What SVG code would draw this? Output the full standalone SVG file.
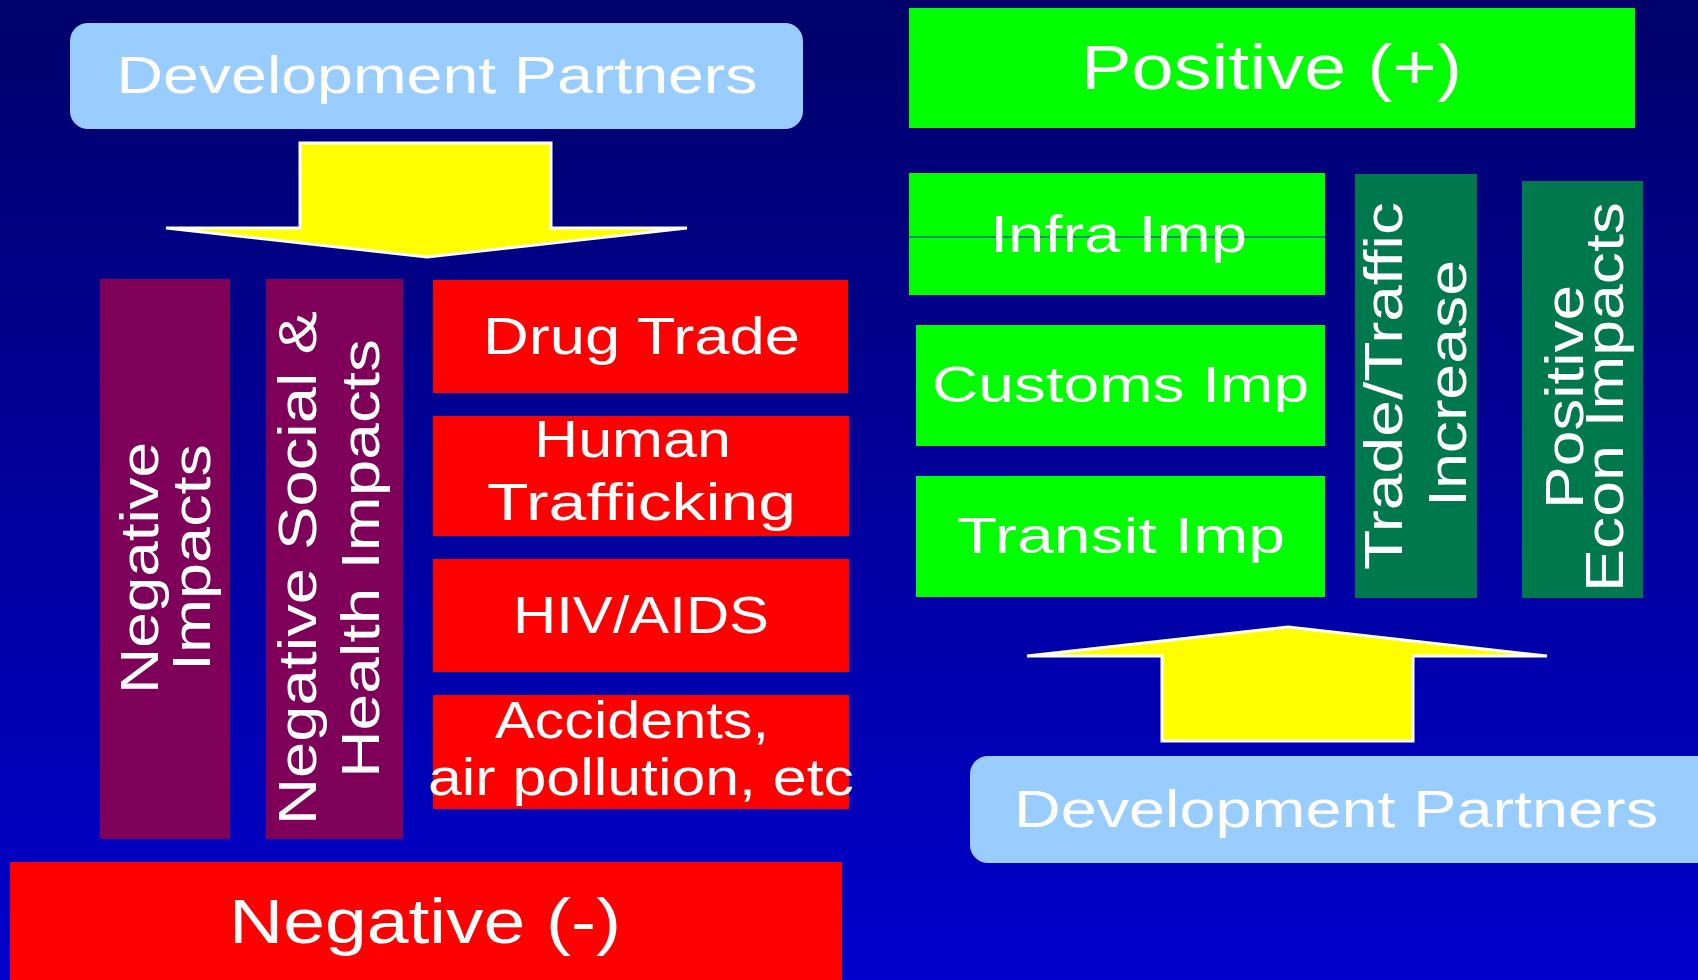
<svg xmlns="http://www.w3.org/2000/svg" width="1698" height="980" viewBox="0 0 1698 980">
<defs>
<linearGradient id="bg" x1="0" y1="0" x2="0" y2="1">
<stop offset="0" stop-color="#00006A"/>
<stop offset="1" stop-color="#0000CC"/>
</linearGradient>
<style>
text{font-family:"Liberation Sans",Arial,sans-serif;fill:#FFFFFF;text-anchor:middle}
.dp{fill:#99CCFF}
.red{fill:#FF0000}
.grn{fill:#00FF00}
.dgr{fill:#00784E}
.mag{fill:#7E0058}
.arrow{fill:#FFFF00;stroke:#FFFFFF;stroke-width:3;stroke-linejoin:miter}
.t50{font-size:50px}
.t52{font-size:52px}
.t54{font-size:54px}
.t63{font-size:63px}
</style>
</defs>
<rect x="0" y="0" width="1698" height="980" fill="url(#bg)"/>

<g id="connectors">
<polygon class="arrow" points="300,143 551,143 551,228 687,228 427,257 166,228 300,228"/>
<polygon class="arrow" points="1288,627 1547,656 1413,656 1413,741 1162,741 1162,656 1027,656"/>
</g>

<g id="dev-partners-left">
<rect class="dp" x="70" y="23" width="733" height="106" rx="18"/>
<text class="t52" x="437" y="93" textLength="641" lengthAdjust="spacingAndGlyphs">Development Partners</text>
</g>

<g id="negative-impacts">
<rect class="mag" x="100" y="279" width="130" height="560"/>
<text class="t54" transform="translate(158,568) rotate(-90)" textLength="252" lengthAdjust="spacingAndGlyphs">Negative</text>
<text class="t54" transform="translate(210,557.5) rotate(-90)" textLength="227" lengthAdjust="spacingAndGlyphs">Impacts</text>
</g>

<g id="negative-social-health">
<rect class="mag" x="266" y="279" width="137" height="560"/>
<text class="t54" transform="translate(316,568) rotate(-90)" textLength="514" lengthAdjust="spacingAndGlyphs">Negative Social &amp;</text>
<text class="t54" transform="translate(379,558.5) rotate(-90)" textLength="439" lengthAdjust="spacingAndGlyphs">Health Impacts</text>
</g>

<g id="drug-trade">
<rect class="red" x="433" y="280" width="415" height="113"/>
<text class="t52" x="641.5" y="354" textLength="317" lengthAdjust="spacingAndGlyphs">Drug Trade</text>
</g>

<g id="human-trafficking">
<rect class="red" x="433" y="416" width="416" height="120"/>
<text class="t52" x="632.5" y="457" textLength="197" lengthAdjust="spacingAndGlyphs">Human</text>
<text class="t52" x="641.5" y="520" textLength="309" lengthAdjust="spacingAndGlyphs">Trafficking</text>
</g>

<g id="hiv-aids">
<rect class="red" x="433" y="559" width="416" height="113"/>
<text class="t52" x="641" y="633" textLength="256" lengthAdjust="spacingAndGlyphs">HIV/AIDS</text>
</g>

<g id="accidents">
<rect class="red" x="433" y="695" width="416" height="114"/>
<text class="t52" x="632" y="738" textLength="274" lengthAdjust="spacingAndGlyphs">Accidents,</text>
<text class="t52" x="641" y="795" textLength="426" lengthAdjust="spacingAndGlyphs">air pollution, etc</text>
</g>

<g id="negative">
<rect class="red" x="10" y="862" width="832" height="118"/>
<text class="t63" x="425" y="943" textLength="392" lengthAdjust="spacingAndGlyphs">Negative (-)</text>
</g>

<g id="positive">
<rect class="grn" x="909" y="8" width="726" height="120"/>
<text class="t63" x="1271.5" y="89" textLength="381" lengthAdjust="spacingAndGlyphs">Positive (+)</text>
</g>

<g id="infra-imp">
<rect class="grn" x="909" y="173" width="416" height="122"/>
<line x1="909" y1="237" x2="1325" y2="237" stroke="#2020CC" stroke-width="1.2"/>
<text class="t52" x="1118.5" y="252" textLength="257" lengthAdjust="spacingAndGlyphs">Infra Imp</text>
</g>

<g id="customs-imp">
<rect class="grn" x="916" y="325" width="409" height="121"/>
<text class="t50" x="1120.5" y="402" textLength="377" lengthAdjust="spacingAndGlyphs">Customs Imp</text>
</g>

<g id="transit-imp">
<rect class="grn" x="916" y="476" width="409" height="121"/>
<text class="t50" x="1121" y="553" textLength="328" lengthAdjust="spacingAndGlyphs">Transit Imp</text>
</g>

<g id="trade-traffic">
<rect class="dgr" x="1355" y="174" width="122" height="424"/>
<text class="t54" transform="translate(1402,386) rotate(-90)" textLength="368" lengthAdjust="spacingAndGlyphs">Trade/Traffic</text>
<text class="t54" transform="translate(1466,383.5) rotate(-90)" textLength="247" lengthAdjust="spacingAndGlyphs">Increase</text>
</g>

<g id="positive-econ">
<rect class="dgr" x="1522" y="181" width="121" height="417"/>
<text class="t54" transform="translate(1583,397) rotate(-90)" textLength="224" lengthAdjust="spacingAndGlyphs">Positive</text>
<text class="t54" transform="translate(1623,397) rotate(-90)" textLength="390" lengthAdjust="spacingAndGlyphs">Econ Impacts</text>
</g>

<g id="dev-partners-right">
<rect class="dp" x="970" y="756" width="745" height="107" rx="18"/>
<text class="t52" x="1336" y="827" textLength="644" lengthAdjust="spacingAndGlyphs">Development Partners</text>
</g>
</svg>
